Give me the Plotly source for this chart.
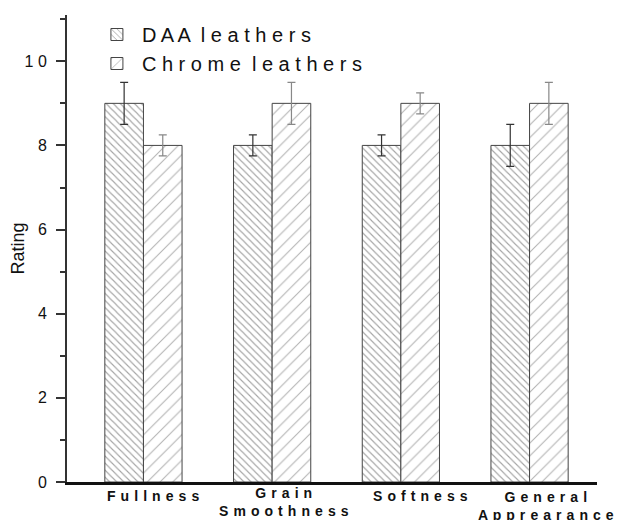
import plotly.graph_objects as go

categories = ["Fullness", "Grain Smoothness", "Softness", "General Apprearance"]
category_lines = [["Fullness"], ["Grain", "Smoothness"], ["Softness"], ["General", "Apprearance"]]
daa_values = [9, 8, 8, 8]
daa_errors = [0.5, 0.25, 0.25, 0.5]
chrome_values = [8, 9, 9, 9]
chrome_errors = [0.25, 0.5, 0.25, 0.5]
ytick_vals = [0, 2, 4, 6, 8, 10]
ytick_text = ["0", "2", "4", "6", "8", "1 0"]

FONT = "Liberation Sans, Arial, sans-serif"


def spaced(word):
    return " \u200a".join(word)


fig = go.Figure()
fig.add_trace(go.Bar(
    x=categories, y=daa_values, name="D A A  l e a t h e r s",
    marker=dict(color="white", line=dict(color="#444", width=1),
                pattern=dict(shape="\\", fgcolor="#4a4a4a", size=5, solidity=0.22)),
    error_y=dict(type="data", array=daa_errors, color="#333", thickness=1.2, width=4),
))
fig.add_trace(go.Bar(
    x=categories, y=chrome_values, name="C h r o m e  l e a t h e r s",
    marker=dict(color="white", line=dict(color="#444", width=1),
                pattern=dict(shape="/", fgcolor="#666", size=9, solidity=0.12)),
    error_y=dict(type="data", array=chrome_errors, color="#888", thickness=1.2, width=4),
))

label_shift = [(10, -4), (12, -1), (20, -4), (16, -5)]
for cat, lines, (dx, dy) in zip(categories, category_lines, label_shift):
    fig.add_annotation(x=cat, y=0, xref="x", yref="paper",
                       text="<br>".join(spaced(w) for w in lines), showarrow=False,
                       xanchor="center", yanchor="top", xshift=dx, yshift=dy,
                       font=dict(size=14, family=FONT, color="#111", weight="bold"),
                       align="center")

# page body has an 8px default margin, so the figure is sized to fit the window
fig.update_layout(
    width=625, height=512,
    margin=dict(l=59, r=36, t=7, b=38, autoexpand=False),
    paper_bgcolor="white", plot_bgcolor="white",
    barmode="group", bargap=0.4, bargroupgap=0,
    font=dict(family=FONT, color="#111"),
    showlegend=True,
    legend=dict(x=0.047, y=1.0, xanchor="left", yanchor="top",
                font=dict(size=20, family=FONT), bgcolor="rgba(0,0,0,0)", tracegroupgap=0,
                itemwidth=40),
)
fig.update_xaxes(
    showline=True, linecolor="#111", linewidth=3, automargin=False,
    ticks="", showticklabels=False, showgrid=False, range=[-0.594, 3.524],
)
fig.update_yaxes(
    range=[0, 11.1], showline=True, linecolor="#333", linewidth=2, automargin=False,
    showgrid=False, zeroline=False,
    tickvals=ytick_vals, ticktext=ytick_text, ticks="outside", ticklen=9, tickwidth=1.5, tickcolor="#333",
    ticklabelstandoff=6,
    minor=dict(tickvals=[1, 3, 5, 7, 9, 11], ticks="outside", ticklen=5, tickwidth=1.5, tickcolor="#333"),
    tickfont=dict(size=16),
    title=dict(text="Rating", font=dict(size=18), standoff=2),
)

fig.write_html("out.html")
